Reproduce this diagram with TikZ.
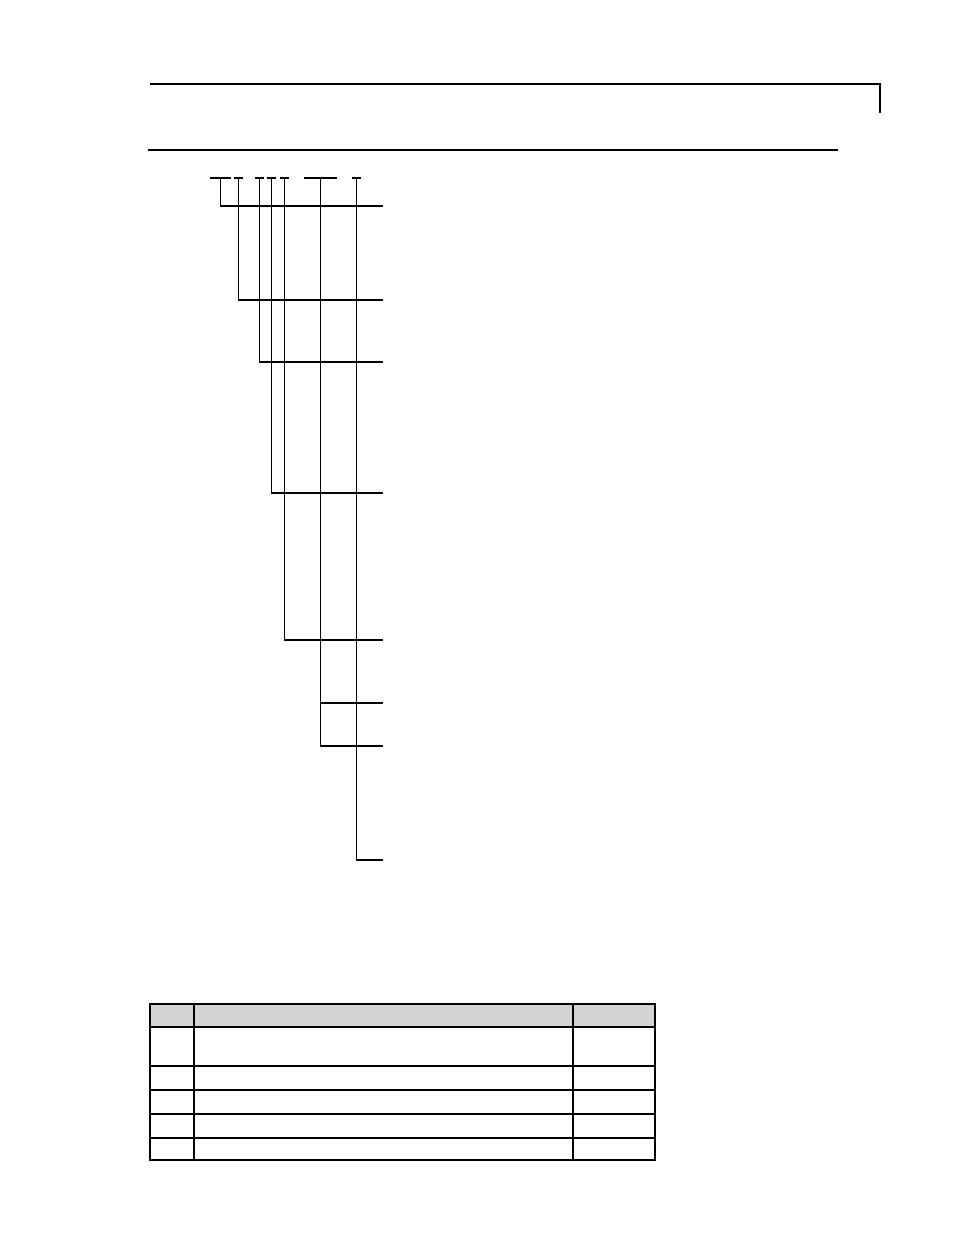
\documentclass[tikz,border=0pt]{standalone}
\usepackage{xcolor}
\usepackage{tikz}
\definecolor{headgray}{gray}{0.83}

\begin{document}
\begin{tikzpicture}[x=0.642bp,y=-0.642bp,line width=0.75pt,
	bar/.style={line width=1.4pt},
	grid/.style={line width=0.85pt}]
	\useasboundingbox (0,0) rectangle (954,1235);
	% page header
	\draw (150,84) -- (880,84) -- (880,113);
	\draw[line width=1.9pt] (148,150) -- (838,150);
	% code field bars
	\foreach \name/\a/\b in {ba/210/231, bb/234/243, bc/255/264, bd/267/276,
	                         be/280/289, bf/304/337, bg/352/361} {
		\draw[bar] (\a,178) -- (\b,178);
		\coordinate (\name) at ({(\a+\b)/2},178);
	}
	% line ends
	\foreach \name/\y in {ra/206, rb/300, rc/362, rd/493,
	                      re/640, rf/703, rg/746, rh/860}
		\coordinate (\name) at (383,\y);
	% leaders
	\draw (ba) |- (ra)
	      (bb) |- (rb)
	      (bc) |- (rc)
	      (bd) |- (rd)
	      (be) |- (re)
	      (bf) |- (rg)
	      (bf |- rf) -- (rf)
	      (bg) |- (rh);
	% table
	\fill[headgray] (150,1004) rectangle (655,1027);
	\draw[grid] (150,1004) rectangle (655,1160)
	      (194,1004) -- (194,1160)
	      (573,1004) -- (573,1160);
	\foreach \y in {1027,1066,1090,1114,1138}
		\draw[grid] (150,\y) -- (655,\y);
\end{tikzpicture}
\end{document}
